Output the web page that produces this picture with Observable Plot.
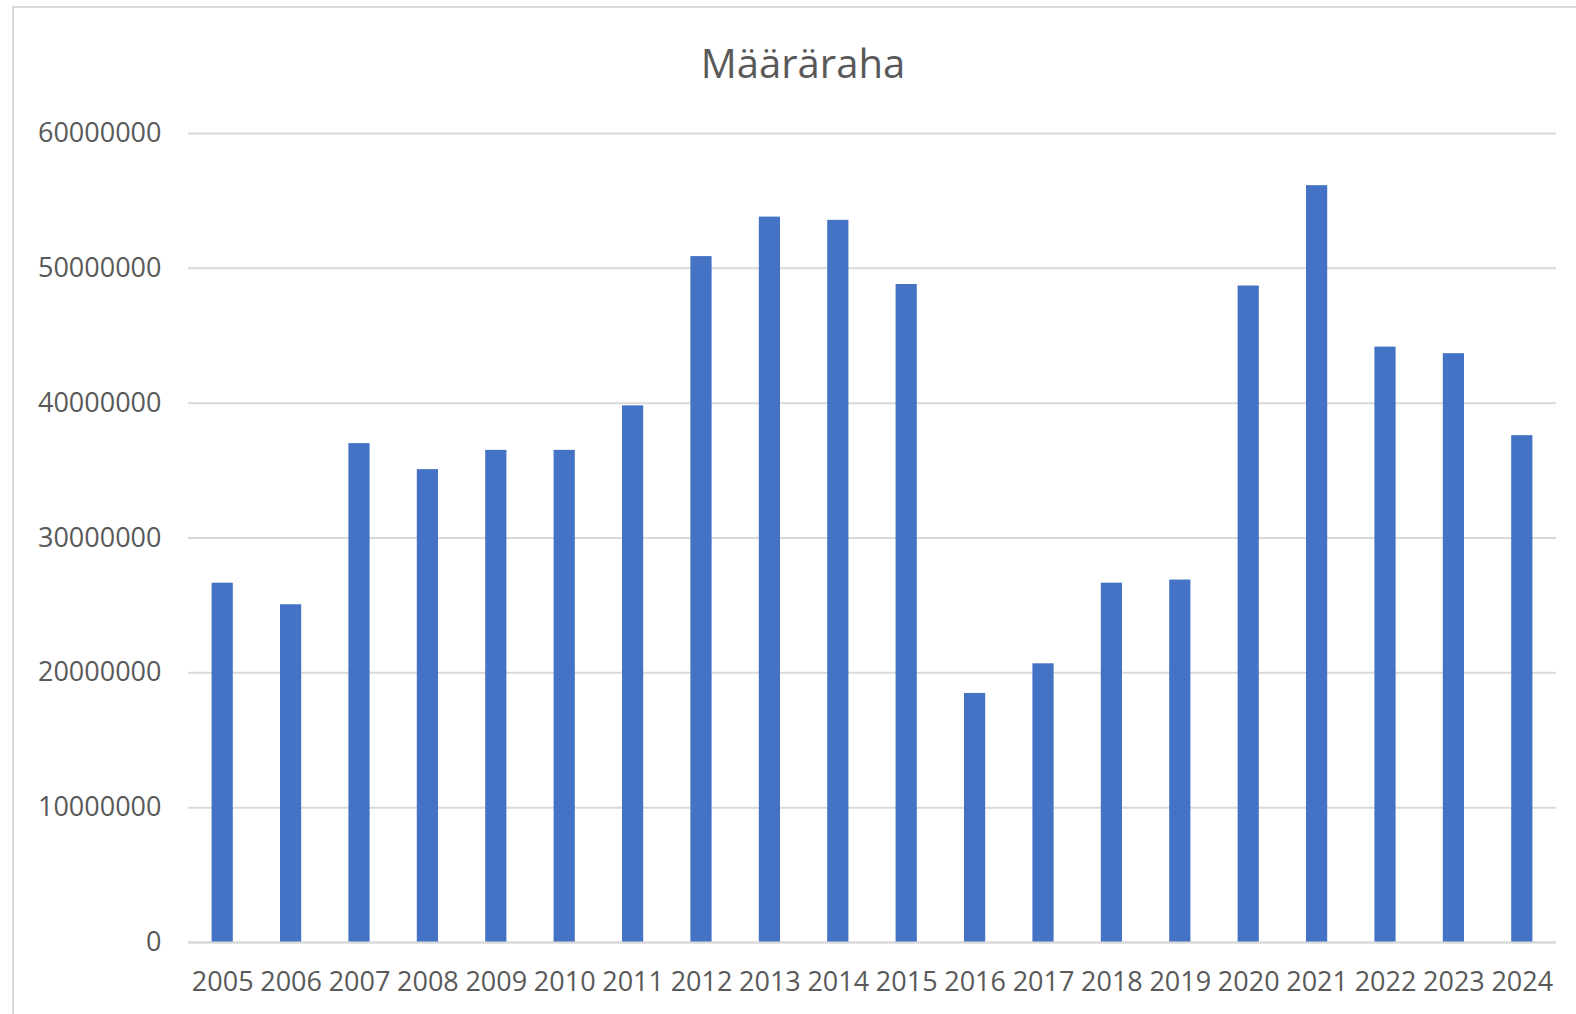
<!DOCTYPE html>
<html>
<head>
<meta charset="utf-8">
<script src="https://cdn.jsdelivr.net/npm/d3@7"></script>
<script src="https://cdn.jsdelivr.net/npm/@observablehq/plot@0.6"></script>
<style>
  html, body { margin: 0; padding: 0; background: #fff; overflow: hidden; width: 1576px; height: 1014px; }
  #frame { position: absolute; left: 12px; top: 6px; width: 1700px; height: 1100px;
           border-left: 2px solid #d9d9d9; border-top: 2px solid #d9d9d9; box-sizing: border-box; }
  #title { position: absolute; left: 603px; top: 42.5px; width: 400px; text-align: center;
           font-family: "Open Sans", sans-serif; font-size: 40px; line-height: 40px; color: #595959; }
  #chart { position: absolute; left: 0; top: 108px; }
</style>
</head>
<body>
<div id="frame"></div>
<div id="title">Määräraha</div>
<div id="chart"></div>
<script>
const years = ["2005","2006","2007","2008","2009","2010","2011","2012","2013","2014",
               "2015","2016","2017","2018","2019","2020","2021","2022","2023","2024"];
const values = [26650000, 25050000, 37000000, 35070000, 36500000, 36500000, 39800000,
                50870000, 53800000, 53560000, 48800000, 18470000, 20670000, 26650000,
                26880000, 48690000, 56130000, 44160000, 43670000, 37590000];
const yTicks = [0, 10000000, 20000000, 30000000, 40000000, 50000000, 60000000];

const data = years.map((y, i) => ({year: y, value: values[i]}));

const chart = Plot.plot({
  width: 1576,
  height: 906,
  marginTop: 25,
  marginBottom: 72,
  marginLeft: 188,
  marginRight: 20,
  style: { fontFamily: "Open Sans, sans-serif", fontSize: "27px", color: "#595959", background: "transparent" },
  x: { domain: years, paddingInner: 0.69, paddingOuter: 0.345, round: false, label: null, tickSize: 0, tickPadding: 29 },
  y: { domain: [0, 60000000], ticks: yTicks, tickFormat: d3.format("d"), label: null, tickSize: 0, tickPadding: 27 },
  marks: [
    Plot.ruleY(yTicks, { stroke: "#d9d9d9", strokeWidth: 2 }),
    Plot.barY(data, { x: "year", y: "value", fill: "#4472C4" }),
    Plot.ruleY([0], { stroke: "#d9d9d9", strokeWidth: 2 })
  ]
});
document.getElementById("chart").appendChild(chart);
</script>
</body>
</html>
